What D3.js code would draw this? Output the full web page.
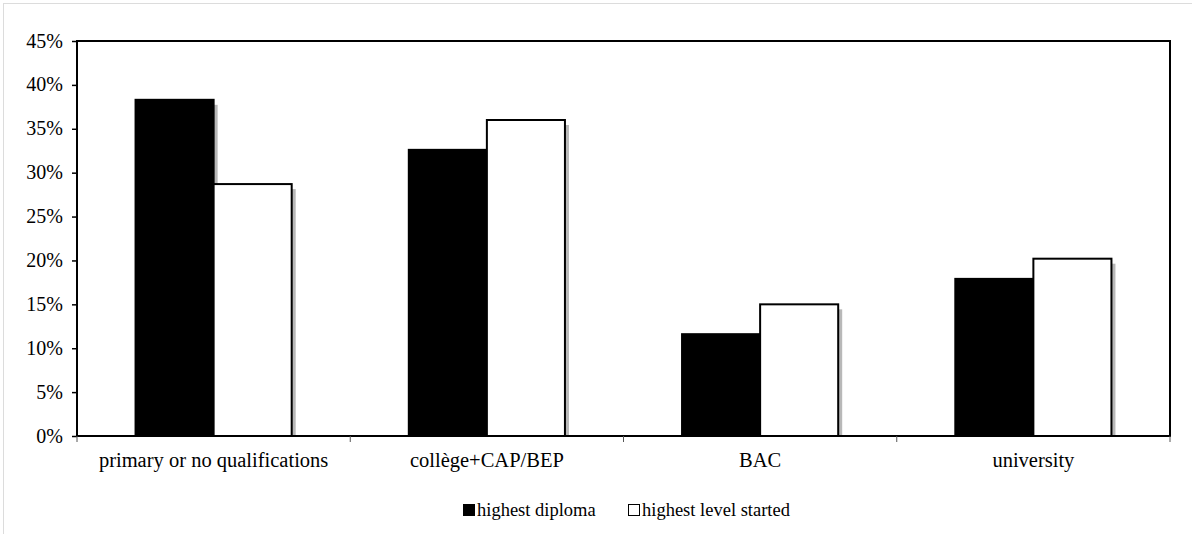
<!DOCTYPE html>
<html>
<head>
<meta charset="utf-8">
<script src="https://cdn.jsdelivr.net/npm/d3@7"></script>
<style>
  body { margin: 0; background: #fff; }
</style>
</head>
<body>
<div id="chart"></div>
<script>
// categories and series (percent)
var categories = ["primary or no qualifications", "collège+CAP/BEP", "BAC", "university"];
var seriesNames = ["highest diploma", "highest level started"];
var highestDiploma = [38.3, 32.6, 11.6, 17.9];
var highestStarted = [28.7, 36.0, 15.0, 20.2];
var yTicks = [0, 5, 10, 15, 20, 25, 30, 35, 40, 45];

var width = 1192, height = 534;
var plot = { left: 77, top: 41, right: 1170, bottom: 436 };
var serif = "'Liberation Serif'";

var svg = d3.select("#chart").append("svg")
    .attr("width", width)
    .attr("height", height);

// faint page border
svg.append("rect")
    .attr("x", 3.5).attr("y", 3.5)
    .attr("width", width + 10).attr("height", height + 10)
    .attr("fill", "none")
    .attr("stroke", "#dcdcdc");

var x = d3.scaleBand()
    .domain(categories)
    .range([plot.left, plot.right]);

var x1 = d3.scaleBand()
    .domain(seriesNames)
    .range([0, x.bandwidth()])
    .paddingInner(0)
    .paddingOuter(0.75);

var y = d3.scaleLinear()
    .domain([0, 45])
    .range([plot.bottom, plot.top]);

var rows = categories.map(function (c, i) {
    return [
        { cat: c, s: seriesNames[0], v: highestDiploma[i] },
        { cat: c, s: seriesNames[1], v: highestStarted[i] }
    ];
});
var flat = [].concat.apply([], rows);

// plot frame
svg.append("rect")
    .attr("x", plot.left).attr("y", plot.top)
    .attr("width", plot.right - plot.left)
    .attr("height", plot.bottom - plot.top)
    .attr("fill", "#fff")
    .attr("stroke", "#000")
    .attr("stroke-width", 2);

// shadows
svg.append("g").selectAll("rect")
    .data(flat)
    .enter().append("rect")
    .attr("x", function (d) { return x(d.cat) + x1(d.s) + 4; })
    .attr("y", function (d) { return y(d.v) + 5; })
    .attr("width", x1.bandwidth())
    .attr("height", function (d) { return plot.bottom - y(d.v) - 5; })
    .attr("fill", "#b8b8b8");

// bars
svg.append("g").selectAll("rect")
    .data(flat)
    .enter().append("rect")
    .attr("x", function (d) { return x(d.cat) + x1(d.s); })
    .attr("y", function (d) { return y(d.v); })
    .attr("width", x1.bandwidth())
    .attr("height", function (d) { return plot.bottom - y(d.v); })
    .attr("fill", function (d) { return d.s === seriesNames[0] ? "#000" : "#fff"; })
    .attr("stroke", "#000")
    .attr("stroke-width", 2);

// y axis
var yAxis = svg.append("g")
    .attr("transform", "translate(" + plot.left + ",0)")
    .call(d3.axisLeft(y).tickValues(yTicks).tickSize(5).tickPadding(9)
        .tickFormat(function (d) { return d + "%"; }));
yAxis.select(".domain").remove();
yAxis.selectAll("line").attr("stroke", "#000").attr("stroke-width", 1.5);
yAxis.selectAll("text")
    .attr("fill", "#000")
    .attr("dy", "0.3em")
    .style("font-family", serif)
    .style("font-size", "20px");

// x axis baseline + ticks at category boundaries
svg.append("line")
    .attr("x1", plot.left).attr("x2", plot.right)
    .attr("y1", plot.bottom).attr("y2", plot.bottom)
    .attr("stroke", "#000").attr("stroke-width", 2);

var boundaries = categories.map(function (c) { return x(c); }).concat([plot.right]);
svg.append("g").selectAll("line")
    .data(boundaries)
    .enter().append("line")
    .attr("x1", function (d) { return d; })
    .attr("x2", function (d) { return d; })
    .attr("y1", plot.bottom)
    .attr("y2", plot.bottom + 6)
    .attr("stroke", "#555")
    .attr("stroke-width", 1);

svg.append("g").selectAll("text")
    .data(categories)
    .enter().append("text")
    .attr("x", function (d) { return x(d) + x.bandwidth() / 2; })
    .attr("y", 467)
    .attr("text-anchor", "middle")
    .style("font-family", serif)
    .style("font-size", "20.5px")
    .text(function (d) { return d; });

// legend
var legend = [
    { name: seriesNames[0], fill: "#000", x: 463 },
    { name: seriesNames[1], fill: "#fff", x: 628 }
];
var lg = svg.append("g").selectAll("g")
    .data(legend)
    .enter().append("g")
    .attr("transform", function (d) { return "translate(" + d.x + ",504)"; });
lg.append("rect")
    .attr("x", 0.5).attr("y", 0.5)
    .attr("width", 11).attr("height", 11)
    .attr("fill", function (d) { return d.fill; })
    .attr("stroke", "#000")
    .attr("stroke-width", 1);
lg.append("text")
    .attr("x", 14).attr("y", 12)
    .style("font-family", serif)
    .style("font-size", "18.5px")
    .text(function (d) { return d.name; });
</script>
</body>
</html>
